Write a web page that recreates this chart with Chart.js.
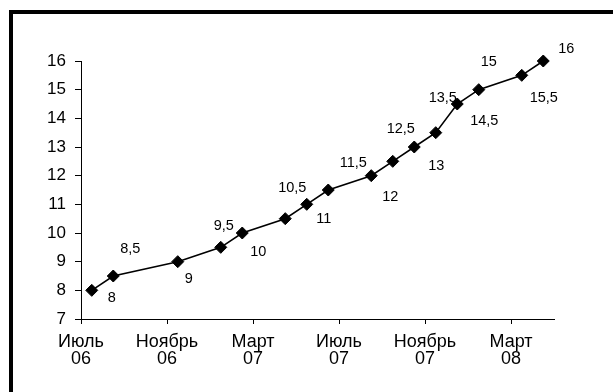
<!DOCTYPE html>
<html>
<head>
<meta charset="utf-8">
<script src="https://cdn.jsdelivr.net/npm/chart.js@4/dist/chart.umd.min.js"></script>
<style>
  html, body { margin: 0; padding: 0; background: #fff; }
  #wrap { position: relative; width: 613px; height: 392px; overflow: hidden; }
  #frame {
    position: absolute; left: 9px; top: 10px; right: -10px; bottom: -10px;
    border-left: 4px solid #000; border-top: 4px solid #000;
  }
  #c { position: absolute; left: 0; top: 0; }
</style>
</head>
<body>
<div id="wrap">
  <div id="frame"></div>
  <canvas id="c" width="613" height="392"></canvas>
</div>
<script>
// Observation times, in months counted from July 2006
const months = [0.5, 1.5, 4.5, 6.5, 7.5, 9.5, 10.5, 11.5, 13.5, 14.5, 15.5, 16.5, 17.5, 18.5, 20.5, 21.5];
// Rate, %
const rates = [8, 8.5, 9, 9.5, 10, 10.5, 11, 11.5, 12, 12.5, 13, 13.5, 14.5, 15, 15.5, 16];
// Month ticks along the time axis and their labels
const tickMonths = [0, 4, 8, 12, 16, 20];
const tickLabels = [
  ['Июль', '06'], ['Ноябрь', '06'], ['Март', '07'],
  ['Июль', '07'], ['Ноябрь', '07'], ['Март', '08']
];

// Where each value label sits relative to its marker (px)
const labelNudge = [
  [20, 8], [17, -27], [11, 17], [3, -21], [16, 19], [7, -31], [17, 15], [25, -27],
  [19, 21], [8, -32], [22, 19], [7, -35], [27, 17], [10, -28], [22, 23], [23, -12]
];

const FONT = '"Liberation Sans", Arial, sans-serif';

const valueLabels = {
  id: 'valueLabels',
  afterDatasetsDraw(chart) {
    const ctx = chart.ctx;
    const meta = chart.getDatasetMeta(0);
    ctx.save();
    ctx.font = '14.5px ' + FONT;
    ctx.fillStyle = '#000';
    ctx.textAlign = 'center';
    ctx.textBaseline = 'middle';
    meta.data.forEach((pt, i) => {
      const txt = String(rates[i]).replace('.', ',');
      const n = labelNudge[i];
      ctx.fillText(txt, pt.x + n[0], pt.y + n[1]);
    });
    ctx.restore();
  }
};

new Chart(document.getElementById('c'), {
  type: 'line',
  data: {
    datasets: [{
      data: months.map((m, i) => ({ x: m, y: rates[i] })),
      borderColor: '#000',
      borderWidth: 1.6,
      backgroundColor: '#000',
      pointStyle: 'rectRot',
      pointRadius: 6,
      pointBorderWidth: 1,
      pointBorderColor: '#000',
      pointBackgroundColor: '#000',
      tension: 0,
      clip: false
    }]
  },
  options: {
    responsive: false,
    animation: false,
    devicePixelRatio: 1,
    layout: { padding: { left: 0, top: 61, right: 59, bottom: 0 } },
    plugins: { legend: { display: false }, tooltip: { enabled: false } },
    scales: {
      x: {
        type: 'linear',
        min: 0,
        max: 22,
        afterBuildTicks(scale) { scale.ticks = tickMonths.map(v => ({ value: v })); },
        afterFit(scale) { scale.height = 73; },
        grid: { display: true, drawOnChartArea: false, drawTicks: true, tickLength: 5, color: '#000', lineWidth: 1 },
        border: { display: true, color: '#000', width: 1 },
        ticks: {
          autoSkip: false,
          maxRotation: 0,
          padding: 9,
          color: '#000',
          font: { family: FONT, size: 18, lineHeight: 0.95 },
          callback(value) { return tickLabels[tickMonths.indexOf(value)]; }
        }
      },
      y: {
        min: 7,
        max: 16,
        afterFit(scale) { scale.width = 81; },
        grid: { display: true, drawOnChartArea: false, drawTicks: true, tickLength: 6, color: '#000', lineWidth: 1 },
        border: { display: true, color: '#000', width: 1 },
        ticks: {
          stepSize: 1,
          padding: 9,
          color: '#000',
          font: { family: FONT, size: 17 }
        }
      }
    }
  },
  plugins: [valueLabels]
});
</script>
</body>
</html>
